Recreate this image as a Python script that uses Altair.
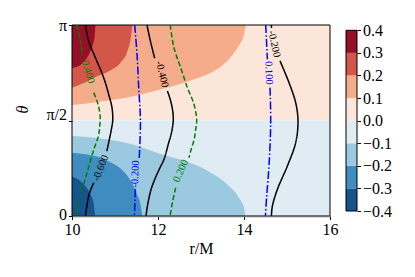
import altair as alt
import pandas as pd

# ---------------- axis ticks / colour levels ----------------
r_ticks = [10, 12, 14, 16]
theta_ticks = [0.0, 0.5, 1.0]                 # theta / pi
theta_tick_labels = ["0", "π/2", "π"]
levels = [-0.4, -0.3, -0.2, -0.1, 0.0, 0.1, 0.2, 0.3, 0.4]
level_colors = ["#17548f", "#3f8dc0", "#9ac9e0", "#dfecf3",
                "#fbe6d9", "#f5ac8b", "#d25749", "#960f27"]

# ---------------- filled contour boundaries (r/M , theta/pi) ----------------
# upper half: region between boundary and theta = pi
c01_r = [10.0, 10.67, 11.37, 12.06, 12.84, 13.23, 13.61, 13.85, 14.0, 14.04]
c01_t = [0.581, 0.600, 0.625, 0.662, 0.716, 0.750, 0.812, 0.881, 0.951, 1.0]
c02_r = [10.0, 10.27, 10.55, 10.71, 10.94, 11.13, 11.29, 11.37, 11.405]
c02_t = [0.672, 0.696, 0.728, 0.742, 0.768, 0.803, 0.864, 0.934, 1.0]
c03_r = [10.0, 10.12, 10.23, 10.33, 10.42, 10.49, 10.53, 10.545]
c03_t = [0.776, 0.782, 0.797, 0.822, 0.857, 0.902, 0.948, 1.0]
# lower half: region between theta = 0 and boundary
cm01_r = [10.0, 10.7, 11.4, 12.06, 12.45, 12.84, 13.23, 13.61, 13.88, 14.0, 14.03]
cm01_t = [0.419, 0.405, 0.376, 0.325, 0.300, 0.271, 0.227, 0.166, 0.096, 0.043, 0.0]
cm02_r = [10.0, 10.35, 10.7, 10.95, 11.15, 11.4, 11.52, 11.6, 11.63]
cm02_t = [0.331, 0.322, 0.303, 0.275, 0.245, 0.17, 0.11, 0.05, 0.0]
cm03_r = [10.0, 10.12, 10.23, 10.33, 10.43, 10.50, 10.54]
cm03_t = [0.205, 0.195, 0.176, 0.15, 0.113, 0.07, 0.0]

fill_r = [c01_r, c02_r, c03_r, cm01_r, cm02_r, cm03_r]
fill_t = [c01_t, c02_t, c03_t, cm01_t, cm02_t, cm03_t]
fill_edge = [1.0, 1.0, 1.0, 0.0, 0.0, 0.0]
fill_bin = [5, 6, 7, 2, 1, 0]           # index into level_colors
half_lo = [0.5, 0.0]                     # zero contour splits at theta = pi/2
half_hi = [1.0, 0.5]
half_bin = [4, 3]

# ---------------- contour lines (segments split at inline labels) ----------------
k1_r = [[10.312, 10.388, 10.544, 10.737, 10.853, 10.930, 10.947, 10.916, 10.81],
        [10.505, 10.44, 10.388, 10.312]]
k1_t = [[1.0, 0.916, 0.829, 0.724, 0.637, 0.567, 0.503, 0.454, 0.340],
        [0.174, 0.14, 0.105, 0.0]]
k2_r = [[11.744, 11.823, 11.923],
        [12.219, 12.295, 12.345, 12.355, 12.33, 12.295, 12.249, 12.14, 12.04,
         11.93, 11.84, 11.76, 11.721]]
k2_t = [[1.0, 0.916, 0.826],
        [0.654, 0.602, 0.545, 0.500, 0.455, 0.419, 0.384, 0.297, 0.25,
         0.195, 0.14, 0.06, 0.0]]
k3_r = [[14.637, 14.64],
        [14.837, 15.047, 15.202, 15.256, 15.202, 15.009, 14.777, 14.66, 14.637]]
k3_t = [[1.0, 0.985],
        [0.812, 0.698, 0.593, 0.497, 0.384, 0.262, 0.140, 0.052, 0.0]]
g1_r = [[10.116, 10.195, 10.249],
        [10.505, 10.605, 10.655, 10.64, 10.61, 10.51, 10.35, 10.195, 10.093]]
g1_t = [[1.0, 0.916, 0.838],
        [0.646, 0.585, 0.52, 0.46, 0.415, 0.35, 0.227, 0.105, 0.0]]
g2_r = [[12.284, 12.372, 12.528, 12.684, 12.837, 12.90, 12.877, 12.84, 12.76, 12.72],
        [12.412, 12.335, 12.279]]
g2_t = [[1.0, 0.881, 0.776, 0.672, 0.585, 0.503, 0.454, 0.40, 0.34, 0.305],
        [0.148, 0.070, 0.0]]
b1_r = [[11.458, 11.512, 11.551, 11.591, 11.574, 11.563], [11.474, 11.451]]
b1_t = [[1.0, 0.847, 0.672, 0.503, 0.349, 0.298], [0.140, 0.0]]
b2_r = [[14.505, 14.544], [14.605, 14.621, 14.581, 14.528, 14.498]]
b2_t = [[1.0, 0.820], [0.672, 0.488, 0.262, 0.105, 0.0]]

line_r = [k1_r, k2_r, k3_r, g1_r, g2_r, b1_r, b2_r]
line_t = [k1_t, k2_t, k3_t, g1_t, g2_t, b1_t, b2_t]
line_kind = ["solid", "solid", "solid", "dashed", "dashed", "dashdot", "dashdot"]

# inline contour labels
label_text = ["0.400", "-0.400", "-0.600", "-0.200", "0.200", "0.100", "-0.200"]
label_r = [10.372, 12.093, 10.667, 11.474, 12.53, 14.574, 14.70]
label_t = [0.755, 0.742, 0.251, 0.220, 0.236, 0.749, 0.901]
label_kind = ["dashed", "solid", "solid", "dashdot", "dashed", "dashdot", "solid"]

# ---------------- styles ----------------
FONT = "Liberation Serif"
W, H = 258, 191
label_angle = [74, 76, 292, 272, 294, 88, 78]
kind_color = {"solid": "#000000", "dashed": "#008000", "dashdot": "#0000ff"}
kind_dash = {"solid": [1, 0], "dashed": [5, 2.5], "dashdot": [8, 2.2, 1.5, 2.2]}

# ---------------- tables ----------------
fill_rows = []
for k, (rr, tt) in enumerate(zip(fill_r, fill_t)):
    for r, t in zip(rr, tt):
        fill_rows.append({"k": k, "r": r, "t": t, "edge": fill_edge[k]})
fill_df = pd.DataFrame(fill_rows)

half_df = pd.DataFrame({"k": [0, 1], "r0": [r_ticks[0]] * 2, "r1": [r_ticks[-1]] * 2,
                        "t0": half_lo, "t1": half_hi})

line_rows = []
for li, (segs_r, segs_t) in enumerate(zip(line_r, line_t)):
    for si, (rr, tt) in enumerate(zip(segs_r, segs_t)):
        for i, (r, t) in enumerate(zip(rr, tt)):
            line_rows.append({"seg": f"{li}-{si}", "kind": line_kind[li], "r": r, "t": t, "i": i})
line_df = pd.DataFrame(line_rows)

lab_df = pd.DataFrame({"k": list(range(len(label_text))), "txt": label_text,
                       "r": label_r, "t": label_t})

frame_df = pd.DataFrame({"r0": [r_ticks[0]], "r1": [r_ticks[-1]],
                         "t0": [theta_ticks[0]], "t1": [theta_ticks[-1]]})

# ---------------- encodings ----------------
xscale = alt.Scale(domain=[r_ticks[0], r_ticks[-1]], nice=False, zero=False)
yscale = alt.Scale(domain=[theta_ticks[0], theta_ticks[-1]], nice=False, zero=False)

ylab_expr = ""
for v, lab in zip(theta_ticks[:-1], theta_tick_labels[:-1]):
    ylab_expr += f"datum.value == {v} ? '{lab}' : "
ylab_expr += f"'{theta_tick_labels[-1]}'"

xaxis = alt.Axis(values=r_ticks, title="r/M", labelFlush=False, grid=False, domain=True,
                 domainColor="#6f6f6f", domainWidth=1.6,
                 tickSize=3.5, labelPadding=2, titlePadding=3, format="d", zindex=1)
yaxis = alt.Axis(values=theta_ticks, title="θ", labelExpr=ylab_expr, grid=False, domain=False,
                 tickSize=3.5, labelPadding=2, titlePadding=15, titleFontStyle="italic",
                 titleY=84, zindex=1,
                 labelOffset={"expr": "datum.value == 0.5 ? -6 : (datum.value == 0 ? -2 : 0)"})


def X(f):
    return alt.X(f, type="quantitative", scale=xscale, axis=xaxis)


def Y(f):
    return alt.Y(f, type="quantitative", scale=yscale, axis=yaxis)


layers = []
# background halves (0..0.1 and -0.1..0)
for j in range(2):
    layers.append(
        alt.Chart(half_df).transform_filter(alt.datum.k == j)
        .mark_rect(color=level_colors[half_bin[j]])
        .encode(x=X("r0"), x2="r1", y=Y("t0"), y2="t1")
    )
# nested filled regions
for k in range(len(fill_r)):
    layers.append(
        alt.Chart(fill_df).transform_filter(alt.datum.k == k)
        .mark_area(color=level_colors[fill_bin[k]], interpolate="monotone")
        .encode(x=X("r"), y=Y("t"), y2="edge")
    )
# frame
layers.append(
    alt.Chart(frame_df).mark_rect(fillOpacity=0, stroke="black", strokeWidth=1)
    .encode(x=X("r0"), x2="r1", y=Y("t0"), y2="t1")
)
# contour lines
for kind in ["solid", "dashed", "dashdot"]:
    layers.append(
        alt.Chart(line_df).transform_filter(alt.datum.kind == kind)
        .mark_line(color=kind_color[kind], strokeDash=kind_dash[kind], strokeWidth=1.5,
                   interpolate="catmull-rom")
        .encode(x=X("r"), y=Y("t"), detail="seg:N", order="i:Q")
    )
# inline labels
for k in range(len(label_text)):
    layers.append(
        alt.Chart(lab_df).transform_filter(alt.datum.k == k)
        .mark_text(angle=label_angle[k], color=kind_color[label_kind[k]], font=FONT,
                   fontSize=10.5, align="center", baseline="middle")
        .encode(x=X("r"), y=Y("t"), text="txt:N")
    )

main = alt.layer(*layers).properties(width=W, height=H)

# ---------------- colour bar ----------------
cb_df = pd.DataFrame({"lo": levels[:-1], "hi": levels[1:], "c": level_colors})
cb_out = pd.DataFrame({"lo": [levels[0]], "hi": [levels[-1]]})
cbscale = alt.Scale(domain=[-0.4221, 0.4235], nice=False, zero=False)
cbaxis = alt.Axis(orient="right", values=levels, format=".1f", grid=False, domain=False,
                  tickSize=3.5, labelPadding=2, title="")

cb_bars = alt.Chart(cb_df).mark_rect().encode(
    y=alt.Y("lo:Q", scale=cbscale, axis=cbaxis), y2="hi:Q",
    color=alt.Color("c:N", scale=alt.Scale(domain=level_colors, range=level_colors), legend=None),
)
cb_frame = alt.Chart(cb_out).mark_rect(fillOpacity=0, stroke="black", strokeWidth=1).encode(
    y=alt.Y("lo:Q", scale=cbscale, axis=cbaxis), y2="hi:Q"
)
cbar = alt.layer(cb_bars, cb_frame).properties(width=11, height=H)

chart = (
    alt.hconcat(main, cbar, spacing=16, bounds="flush")
    .properties(padding={"left": 6, "top": 8, "right": 0, "bottom": 0})
    .configure_view(stroke="transparent")
    .configure_axis(labelFont=FONT, titleFont=FONT, labelFontSize=16, titleFontSize=16,
                    labelColor="black", titleColor="black", tickColor="black",
                    titleFontWeight="normal")
)

chart.save("out.html", embed_options={"renderer": "svg", "actions": False})
